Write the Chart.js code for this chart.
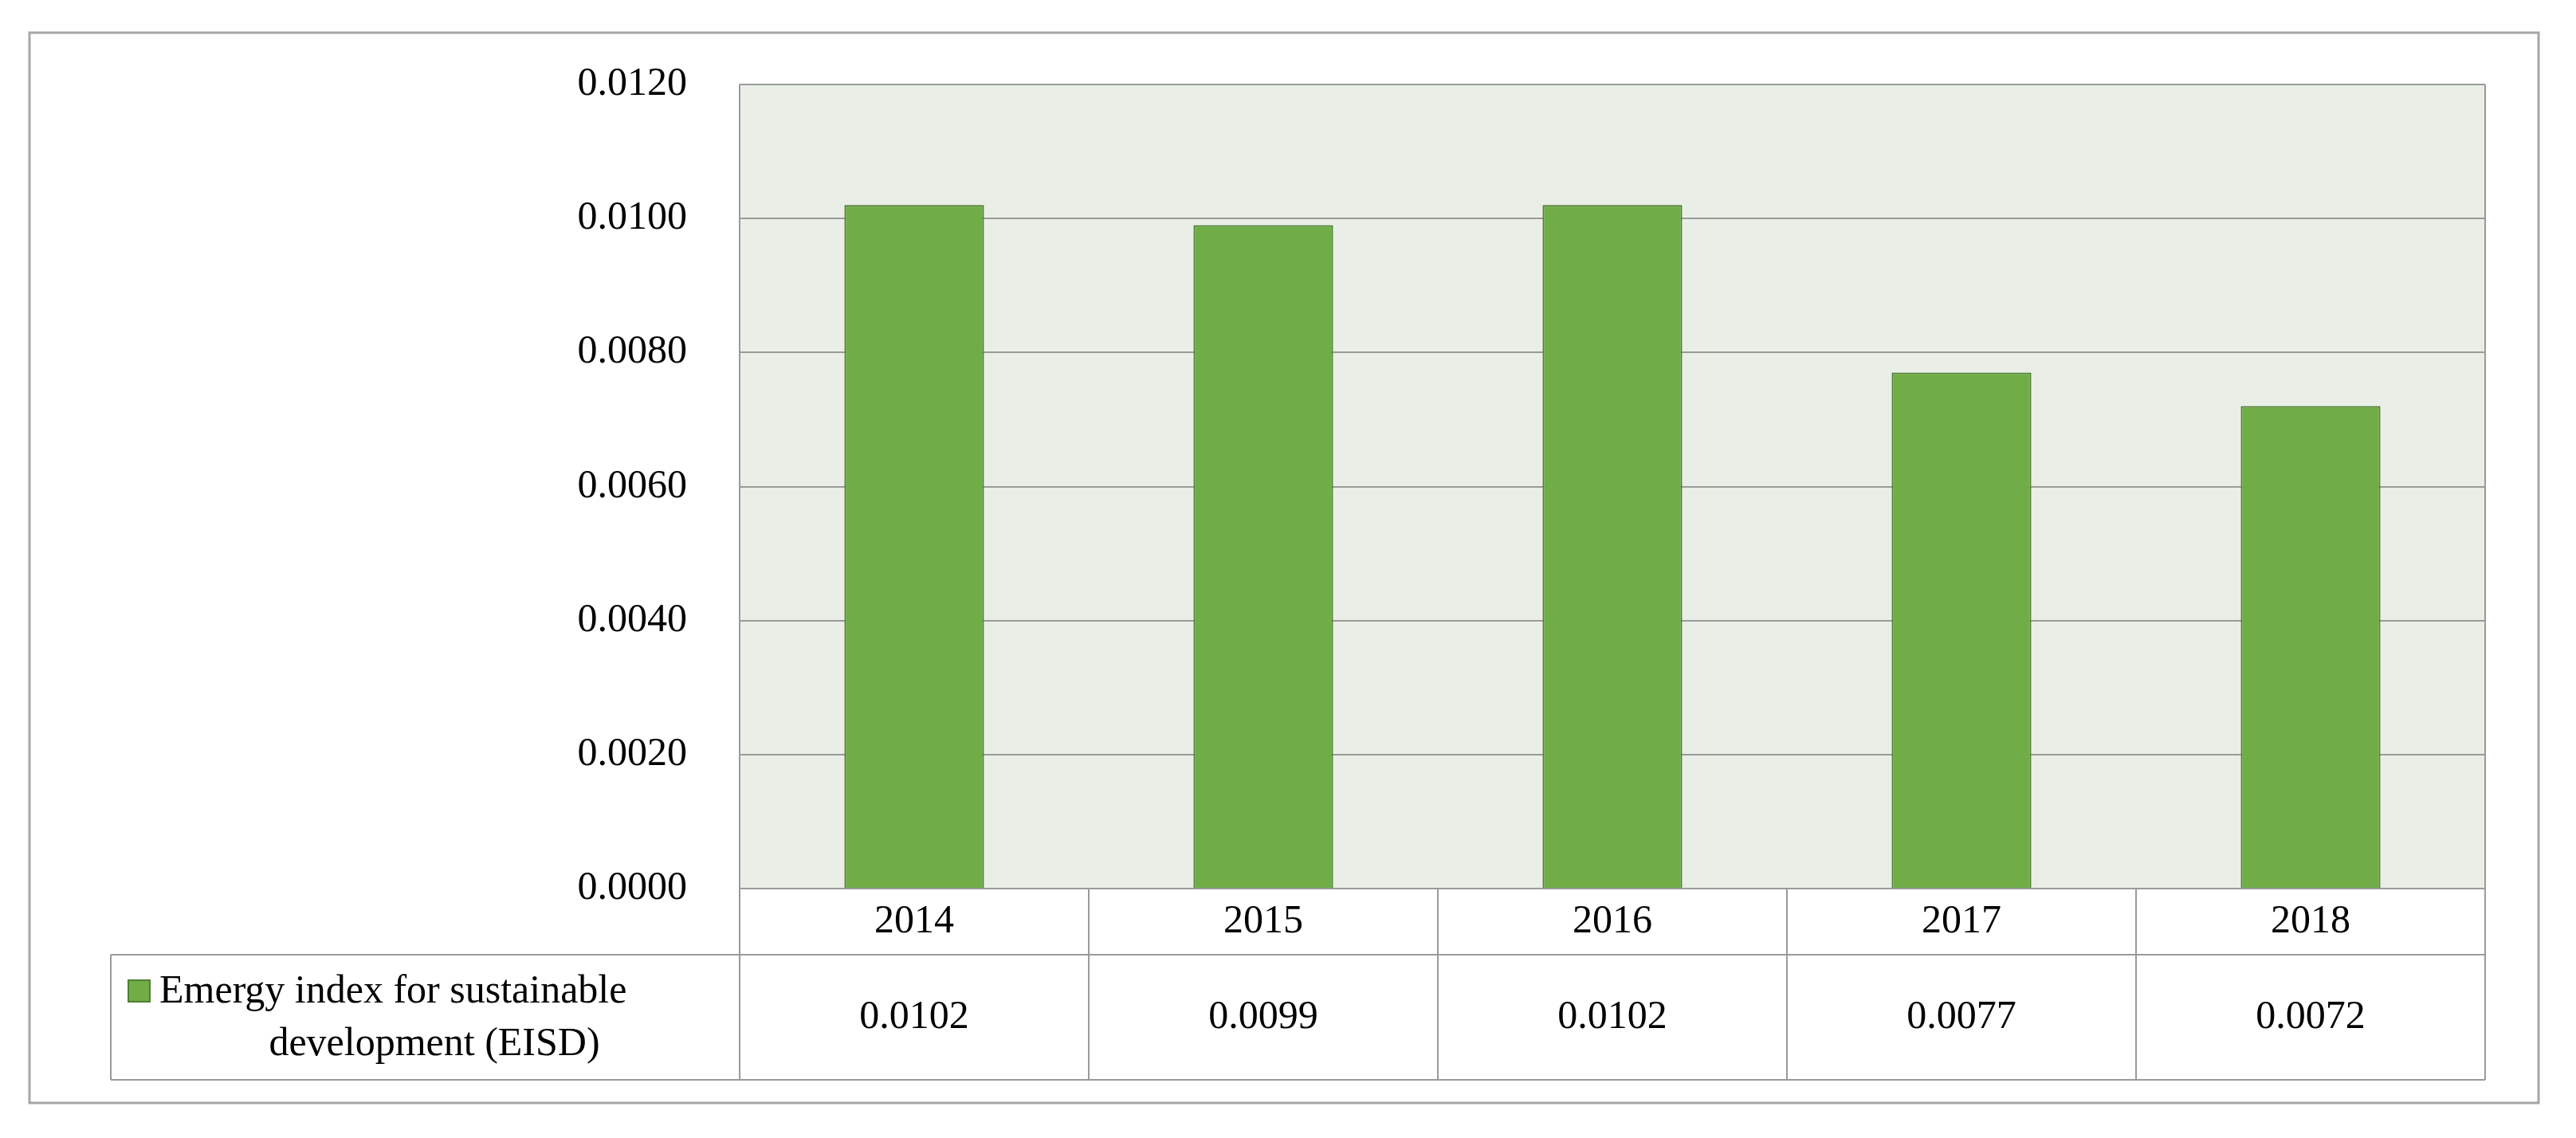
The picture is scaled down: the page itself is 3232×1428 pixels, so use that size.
<!DOCTYPE html>
<html>
<head>
<meta charset="utf-8">
<script src="https://cdn.jsdelivr.net/npm/chart.js@4"></script>
<style>
  html, body { margin: 0; padding: 0; background: #fff; }
  #wrap { position: absolute; left: 0; top: 0; width: 3232px; height: 1428px; }
</style>
</head>
<body>
<div id="wrap"><canvas id="chart" width="3232" height="1428"></canvas></div>
<script>
var years = ['2014', '2015', '2016', '2017', '2018'];
var eisdValues = [0.0102, 0.0099, 0.0102, 0.0077, 0.0072];
var eisdLabels = ['0.0102', '0.0099', '0.0102', '0.0077', '0.0072'];
var seriesName = ['Emergy index for sustainable', 'development (EISD)'];

var FONT = '"Liberation Serif", "Times New Roman", serif';

// frame, plot background and the data table under the plot
var tablePlugin = {
    id: 'tablePlugin',
    beforeDraw: function (chart) {
        var ctx = chart.ctx;
        var a = chart.chartArea;
        ctx.save();
        ctx.fillStyle = '#fff';
        ctx.fillRect(0, 0, chart.width, chart.height);
        // outer frame
        ctx.strokeStyle = '#a6a6a6';
        ctx.lineWidth = 3;
        ctx.strokeRect(37, 41, 3148, 1343);
        ctx.fillStyle = '#e9efe7';
        ctx.fillRect(a.left, a.top, a.right - a.left, a.bottom - a.top);
        ctx.restore();
    },
    afterDraw: function (chart) {
        var ctx = chart.ctx;
        var a = chart.chartArea;
        var x = chart.scales.x;
        var row1 = a.bottom, row2 = 1198, row3 = 1355, legLeft = 139;
        var step = (a.right - a.left) / years.length;
        ctx.save();
        ctx.strokeStyle = '#9a9a9a';
        ctx.lineWidth = 2;
        ctx.beginPath();
        ctx.moveTo(a.left, a.top); ctx.lineTo(a.left, row3);
        ctx.moveTo(a.right, a.top); ctx.lineTo(a.right, row3);
        for (var i = 1; i < years.length; i++) {
            var bx = a.left + step * i;
            ctx.moveTo(bx, row1); ctx.lineTo(bx, row3);
        }
        ctx.moveTo(a.left, row1); ctx.lineTo(a.right, row1);
        ctx.moveTo(legLeft, row2); ctx.lineTo(a.right, row2);
        ctx.moveTo(legLeft, row3); ctx.lineTo(a.right, row3);
        ctx.moveTo(legLeft, row2); ctx.lineTo(legLeft, row3);
        ctx.stroke();

        ctx.fillStyle = '#000';
        ctx.font = '50px ' + FONT;
        ctx.textAlign = 'center';
        ctx.textBaseline = 'middle';
        years.forEach(function (y, i) {
            var cx = x.getPixelForValue(i);
            ctx.fillText(y, cx, (row1 + row2) / 2);
            ctx.fillText(eisdLabels[i], cx, (row2 + row3) / 2);
        });

        // legend key + series name
        ctx.fillStyle = '#70ad47';
        ctx.fillRect(161, 1230, 27, 27);
        ctx.strokeStyle = '#507e32';
        ctx.lineWidth = 2;
        ctx.strokeRect(161, 1230, 27, 27);
        ctx.fillStyle = '#000';
        ctx.textAlign = 'left';
        ctx.fillText(seriesName[0], 200, 1245);
        ctx.textAlign = 'center';
        ctx.fillText(seriesName[1], 545, 1311);
        ctx.restore();
    }
};

var ctx = document.getElementById('chart').getContext('2d');
var chart = new Chart(ctx, {
    type: 'bar',
    data: {
        labels: years,
        datasets: [{
            label: seriesName.join(' '),
            data: eisdValues,
            backgroundColor: '#70ad47',
            borderColor: '#507e32',
            borderWidth: 2,
            barPercentage: 0.4,
            categoryPercentage: 1
        }]
    },
    options: {
        responsive: false,
        animation: false,
        layout: { padding: { left: 0, right: 114, top: 106, bottom: 313 } },
        plugins: { legend: { display: false }, tooltip: { enabled: false } },
        scales: {
            x: { display: false },
            y: {
                min: 0,
                max: 0.012,
                afterFit: function (scale) { scale.width = 928; },
                ticks: {
                    stepSize: 0.002,
                    padding: 66,
                    color: '#000',
                    font: { family: FONT, size: 50 },
                    callback: function (v) { return v.toFixed(4); }
                },
                grid: { color: '#9a9a9a', lineWidth: 2, drawTicks: false },
                border: { display: false }
            }
        }
    },
    plugins: [tablePlugin]
});
</script>
</body>
</html>
